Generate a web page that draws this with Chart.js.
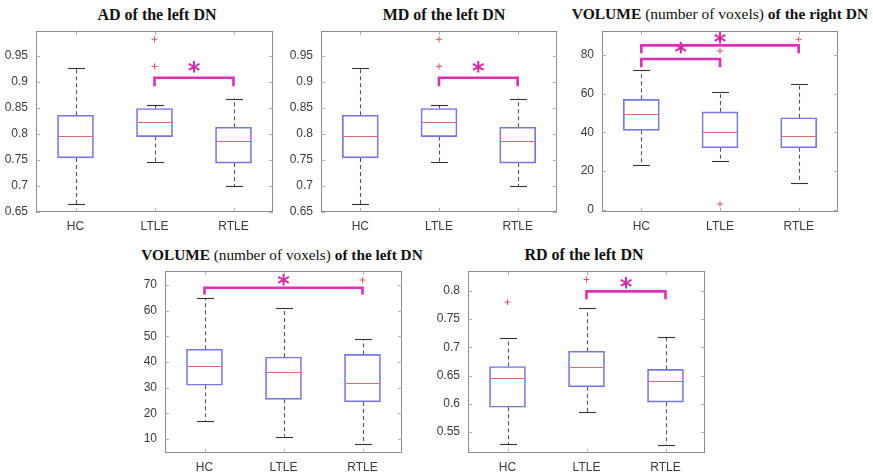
<!DOCTYPE html>
<html>
<head>
<meta charset="utf-8">
<script src="https://cdn.jsdelivr.net/npm/chart.js@4.4.1/dist/chart.umd.min.js"></script>
<style>
  body { margin: 0; background: #fff; width: 873px; height: 476px; position: relative; overflow: hidden; }
  canvas { position: absolute; }
  .title { position: absolute; width: 420px; text-align: center; white-space: nowrap; line-height: 1;
           font-family: "Liberation Serif", "Times New Roman", serif; font-weight: bold; color: #111; }
  .title span { font-weight: normal; }
</style>
</head>
<body>
<div class="title" style="left:-53px;top:7px;font-size:16px">AD of the left DN</div>
<div class="title" style="left:234px;top:7px;font-size:16px">MD of the left DN</div>
<div class="title" style="left:510px;top:6px;font-size:15.5px">VOLUME <span>(number of voxels)</span> of the right DN</div>
<div class="title" style="left:72px;top:247px;font-size:15.3px">VOLUME <span>(number of voxels)</span> of the left DN</div>
<div class="title" style="left:374px;top:247px;font-size:16px">RD of the left DN</div>
<script>
var groups = ['HC', 'LTLE', 'RTLE'];

// AD of the left DN
var adLower = [0.665, 0.746, 0.700];
var adQ1 = [0.754, 0.795, 0.744];
var adMedian = [0.797, 0.824, 0.786];
var adQ3 = [0.836, 0.849, 0.813];
var adUpper = [0.927, 0.855, 0.868];
var adOutliers = [{x: 'LTLE', y: 0.982}, {x: 'LTLE', y: 0.930}];
var adTicks = [0.65, 0.7, 0.75, 0.8, 0.85, 0.9, 0.95];
var adRange = [0.65, 0.998];
// [from, to, bracket y, leg end y, star y]
var adSig = [[1, 2, 0.908, 0.892, 0.929]];

// MD of the left DN
var mdLower = [0.665, 0.746, 0.700];
var mdQ1 = [0.754, 0.795, 0.744];
var mdMedian = [0.797, 0.824, 0.786];
var mdQ3 = [0.836, 0.849, 0.813];
var mdUpper = [0.927, 0.855, 0.868];
var mdOutliers = [{x: 'LTLE', y: 0.982}, {x: 'LTLE', y: 0.930}];
var mdTicks = [0.65, 0.7, 0.75, 0.8, 0.85, 0.9, 0.95];
var mdRange = [0.65, 0.998];
var mdSig = [[1, 2, 0.908, 0.892, 0.929]];

// VOLUME of the right DN
var rvLower = [23, 25, 14];
var rvQ1 = [41, 32, 32];
var rvMedian = [49.5, 40, 38];
var rvQ3 = [57, 50.5, 47.5];
var rvUpper = [72, 61, 65];
var rvOutliers = [{x: 'LTLE', y: 82}, {x: 'LTLE', y: 3}, {x: 'RTLE', y: 88}];
var rvTicks = [0, 20, 40, 60, 80];
var rvRange = [-1.2, 92.3];
var rvSig = [[0, 1, 77.8, 73.6, 83.7], [0, 2, 84.9, 80.8, 88.8]];

// VOLUME of the left DN
var lvLower = [17, 11, 8];
var lvQ1 = [31, 25.5, 24.5];
var lvMedian = [38.5, 36, 32];
var lvQ3 = [45, 42, 43];
var lvUpper = [65, 61, 49];
var lvOutliers = [{x: 'RTLE', y: 72}];
var lvTicks = [10, 20, 30, 40, 50, 60, 70];
var lvRange = [4.6, 75.5];
var lvSig = [[0, 2, 69, 66.3, 72.1]];

// RD of the left DN
var rdLower = [0.529, 0.585, 0.528];
var rdQ1 = [0.594, 0.630, 0.603];
var rdMedian = [0.646, 0.666, 0.641];
var rdQ3 = [0.666, 0.693, 0.661];
var rdUpper = [0.716, 0.769, 0.719];
var rdOutliers = [{x: 'HC', y: 0.780}, {x: 'LTLE', y: 0.820}];
var rdTicks = [0.55, 0.6, 0.65, 0.7, 0.75, 0.8];
var rdRange = [0.513, 0.835];
var rdSig = [[1, 2, 0.799, 0.785, 0.815]];

var AXIS_W = 40, AXIS_H = 30, PAD_T = 2, PAD_R = 4;
var BOX_W = 36, CAP_W = 17;
var FONT = '"Liberation Sans", Arial, sans-serif';

var panels = [
    {lower: adLower, q1: adQ1, median: adMedian, q3: adQ3, upper: adUpper, outliers: adOutliers,
     ticks: adTicks, range: adRange, sig: adSig, area: [36, 28, 274, 212]},
    {lower: mdLower, q1: mdQ1, median: mdMedian, q3: mdQ3, upper: mdUpper, outliers: mdOutliers,
     ticks: mdTicks, range: mdRange, sig: mdSig, area: [321, 28, 558, 212]},
    {lower: rvLower, q1: rvQ1, median: rvMedian, q3: rvQ3, upper: rvUpper, outliers: rvOutliers,
     ticks: rvTicks, range: rvRange, sig: rvSig, area: [602, 28, 839, 212]},
    {lower: lvLower, q1: lvQ1, median: lvMedian, q3: lvQ3, upper: lvUpper, outliers: lvOutliers,
     ticks: lvTicks, range: lvRange, sig: lvSig, area: [165, 268, 403, 453]},
    {lower: rdLower, q1: rdQ1, median: rdMedian, q3: rdQ3, upper: rdUpper, outliers: rdOutliers,
     ticks: rdTicks, range: rdRange, sig: rdSig, area: [468, 268, 706, 453]}
];

function seg(ctx, x1, y1, x2, y2) {
    ctx.beginPath();
    ctx.moveTo(x1, y1);
    ctx.lineTo(x2, y2);
    ctx.stroke();
}

var boxPlot = function (p) {
    return {
        id: 'boxPlot',
        beforeDatasetsDraw: function (chart) {
            var ctx = chart.ctx, x = chart.scales.x, y = chart.scales.y;
            ctx.save();
            groups.forEach(function (g, i) {
                var cx = Math.round(x.getPixelForValue(i)) + 0.5;
                ctx.strokeStyle = '#555';
                ctx.lineWidth = 1.1;
                ctx.setLineDash([4, 3]);
                seg(ctx, cx, y.getPixelForValue(p.q3[i]), cx, y.getPixelForValue(p.upper[i]));
                seg(ctx, cx, y.getPixelForValue(p.q1[i]), cx, y.getPixelForValue(p.lower[i]));
                ctx.setLineDash([]);
                ctx.strokeStyle = '#333';
                [p.upper[i], p.lower[i]].forEach(function (v) {
                    var py = Math.round(y.getPixelForValue(v)) + 0.5;
                    seg(ctx, cx - CAP_W / 2, py, cx + CAP_W / 2, py);
                });
            });
            ctx.restore();
        },
        afterDatasetsDraw: function (chart) {
            var ctx = chart.ctx, a = chart.chartArea, x = chart.scales.x, y = chart.scales.y;
            ctx.save();
            // medians
            ctx.strokeStyle = '#e8646e';
            ctx.lineWidth = 1.2;
            groups.forEach(function (g, i) {
                var cx = x.getPixelForValue(i);
                var py = Math.round(y.getPixelForValue(p.median[i])) + 0.5;
                seg(ctx, cx - BOX_W / 2 + 1, py, cx + BOX_W / 2 - 1, py);
            });
            // frame and inner ticks
            ctx.strokeStyle = '#8c8c8c';
            ctx.lineWidth = 1;
            ctx.strokeRect(a.left + 0.5, a.top + 0.5, a.right - a.left - 1, a.bottom - a.top - 1);
            ctx.strokeStyle = '#b0b0b0';
            p.ticks.forEach(function (v) {
                var py = Math.round(y.getPixelForValue(v)) + 0.5;
                seg(ctx, a.left, py, a.left + 4, py);
                seg(ctx, a.right - 4, py, a.right, py);
            });
            groups.forEach(function (g, i) {
                var cx = Math.round(x.getPixelForValue(i)) + 0.5;
                seg(ctx, cx, a.bottom, cx, a.bottom - 4);
                seg(ctx, cx, a.top, cx, a.top + 4);
            });
            // significance brackets
            p.sig.forEach(function (s) {
                var x1 = x.getPixelForValue(s[0]), x2 = x.getPixelForValue(s[1]);
                var yb = y.getPixelForValue(s[2]), yl = y.getPixelForValue(s[3]);
                ctx.strokeStyle = '#e42cb4';
                ctx.lineWidth = 2.6;
                ctx.beginPath();
                ctx.moveTo(x1, yl);
                ctx.lineTo(x1, yb);
                ctx.lineTo(x2, yb);
                ctx.lineTo(x2, yl);
                ctx.stroke();
                ctx.fillStyle = '#d42aa8';
                ctx.font = 'bold 24px "DejaVu Sans", sans-serif';
                ctx.textAlign = 'center';
                ctx.textBaseline = 'alphabetic';
                ctx.fillText('*', (x1 + x2) / 2, y.getPixelForValue(s[4]) + 0.52 * 24);
            });
            ctx.restore();
        }
    };
};

var buildChart = function (p) {
    var c = document.createElement('canvas');
    c.width = p.area[2] - p.area[0] + AXIS_W + PAD_R;
    c.height = p.area[3] - p.area[1] + PAD_T + AXIS_H;
    c.style.left = (p.area[0] - AXIS_W) + 'px';
    c.style.top = (p.area[1] - PAD_T) + 'px';
    document.body.appendChild(c);

    new Chart(c, {
        type: 'bar',
        data: {
            labels: groups,
            datasets: [
                {
                    type: 'bar',
                    data: p.q1.map(function (v, i) { return [v, p.q3[i]]; }),
                    backgroundColor: 'rgba(0,0,0,0)',
                    borderColor: '#7676ec',
                    borderWidth: 1,
                    borderSkipped: false,
                    barThickness: BOX_W
                },
                {
                    type: 'line',
                    data: p.outliers,
                    showLine: false,
                    pointStyle: 'cross',
                    pointRadius: 3,
                    pointBorderColor: '#e8505a',
                    pointBorderWidth: 1
                }
            ]
        },
        options: {
            responsive: false,
            animation: false,
            devicePixelRatio: 1,
            layout: { padding: { top: PAD_T, right: PAD_R, left: 0, bottom: 0 } },
            plugins: { legend: { display: false }, tooltip: { enabled: false } },
            scales: {
                x: {
                    grid: { display: false, drawTicks: false },
                    border: { display: false },
                    ticks: { padding: 7, color: '#3a3a3a', font: { family: FONT, size: 12 } },
                    afterFit: function (s) { s.height = AXIS_H; s.paddingLeft = 0; s.paddingRight = 0; }
                },
                y: {
                    min: p.range[0],
                    max: p.range[1],
                    grid: { display: false, drawTicks: false },
                    border: { display: false },
                    ticks: {
                        padding: 8, color: '#3a3a3a', font: { family: FONT, size: 12 },
                        callback: function (v) { return String(+v.toFixed(2)); }
                    },
                    afterBuildTicks: function (s) { s.ticks = p.ticks.map(function (v) { return { value: v }; }); },
                    afterFit: function (s) { s.width = AXIS_W; s.paddingTop = 0; s.paddingBottom = 0; }
                }
            }
        },
        plugins: [boxPlot(p)]
    });
};

panels.forEach(buildChart);
</script>
</body>
</html>
